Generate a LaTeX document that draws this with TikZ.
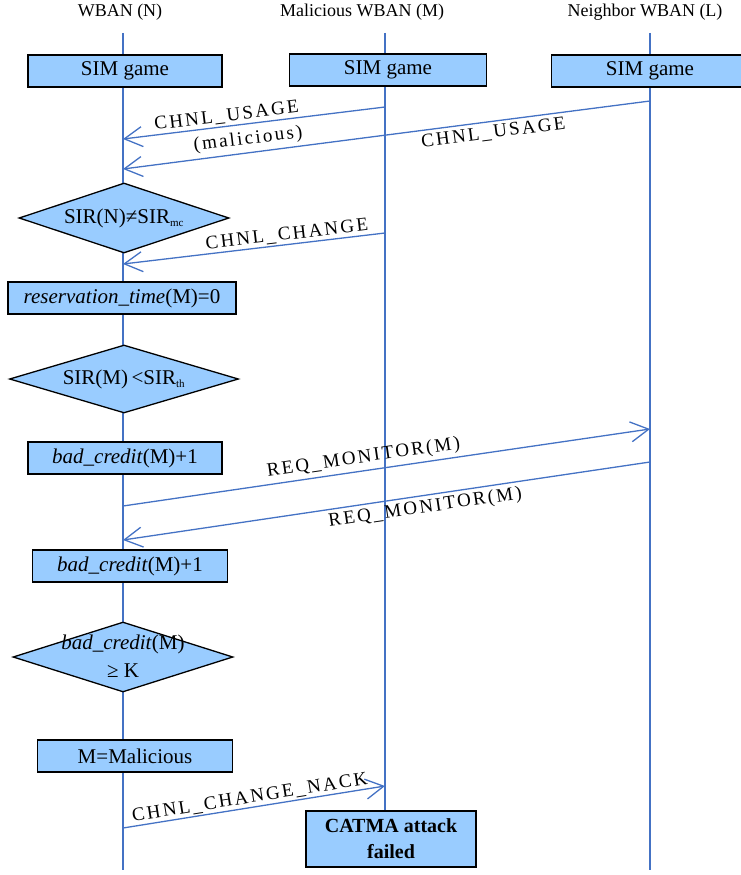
\documentclass[tikz,border=0pt]{standalone}
\usepackage{fontspec}
\setmainfont{Liberation Serif}
\newfontfamily\msgfont[LetterSpace=12]{Liberation Serif}
\usetikzlibrary{arrows.meta,shapes.geometric}
\definecolor{boxfill}{RGB}{153,204,255}
\definecolor{lifeblue}{RGB}{68,114,196}
\begin{document}
\begin{tikzpicture}[x=1pt,y=-1pt,
  every node/.style={font=\fontsize{21}{24}\selectfont},
  title/.style={font=\fontsize{18}{21}\selectfont, inner sep=0pt},
  procbox/.style={draw=black, line width=1.3pt, fill=boxfill, inner sep=0pt, minimum height=32pt},
  decision/.style={diamond, draw=black, line width=1.3pt, fill=boxfill, inner sep=0pt},
  lifeline/.style={draw=lifeblue, line width=1.3pt},
  msg/.style={draw=lifeblue, line width=1.3pt, -{Straight Barb[length=18pt,width=20pt,line width=1.3pt]}},
  msglabel/.style={font=\msgfont\fontsize{19}{21}\selectfont, sloped, inner sep=1.5pt},
]
\useasboundingbox (0,0) rectangle (740,875);

% participant titles
\node[title] (tN) at (120,12) {WBAN (N)};
\node[title] (tM) at (362,12) {Malicious WBAN (M)};
\node[title] (tL) at (645,12) {Neighbor WBAN (L)};

% lifeline end points
\coordinate (Ntop) at (123,33);
\coordinate (Nbot) at (123,870);
\coordinate (Mtop) at (385,33);
\coordinate (Ltop) at (650,33);
\coordinate (Lbot) at (650,870);

% the closing box on the malicious lifeline
\node[procbox, minimum width=170pt, minimum height=56pt, align=center,
      font=\bfseries\fontsize{20}{26}\selectfont] (catma) at (391,839) {CATMA attack\\failed};

\draw[lifeline] (Ntop) -- (Nbot);
\draw[lifeline] (Mtop) -- (catma.north -| Mtop);
\draw[lifeline] (Ltop) -- (Lbot);

% SIM game boxes
\node[procbox, minimum width=194pt] (simN) at (125,71) {SIM game};
\node[procbox, minimum width=197pt] (simM) at (388,70) {SIM game};
\node[procbox, minimum width=197pt] (simL) at (650,71) {SIM game};

% steps on the WBAN (N) lifeline
\node[decision, minimum width=210pt, minimum height=70pt] (d1) at (124,218) {};
\node (d1t) at (d1) {SIR(N)≠SIR\textsubscript{\fontsize{11}{12}\selectfont mc}};
\node[procbox, minimum width=228pt] (rt) at (122,298) {\textit{reservation\_time}(M)=0};
\node[decision, minimum width=229pt, minimum height=68pt] (d2) at (124,379) {};
\node (d2t) at (d2) {SIR(M)\,<SIR\textsubscript{\fontsize{11}{12}\selectfont th}};
\node[procbox, minimum width=194pt] (bc1) at (125,458) {\textit{bad\_credit}(M)+1};
\node[procbox, minimum width=195pt] (bc2) at (130,566) {\textit{bad\_credit}(M)+1};
\node[decision, minimum width=220pt, minimum height=70pt] (d3) at (123,657) {};
\node[align=center, font=\fontsize{21}{28}\selectfont] (d3t) at ([yshift=1pt]d3) {\textit{bad\_credit}(M)\\≥ K};
\node[procbox, minimum width=195pt] (mal) at (135,756) {M=Malicious};

% message end points on the lifelines
\coordinate (a1s) at (385,107);  \coordinate (a1e) at (123,139);
\coordinate (a2s) at (650,101);  \coordinate (a2e) at (123,169);
\coordinate (a3s) at (385,233);  \coordinate (a3e) at (123,264);
\coordinate (a4s) at (123,506);  \coordinate (a4e) at (650,429);
\coordinate (a5s) at (650,462);  \coordinate (a5e) at (123,540);
\coordinate (a6s) at (123,828);  \coordinate (a6e) at (385,786);

% messages
\draw[msg] (a1s) -- node[msglabel, pos=.6, above=0.5pt] {CHNL\_USAGE}
                    node[msglabel, pos=.53, below=5pt] {(malicious)} (a1e);
\draw[msg] (a2s) -- node[msglabel, pos=.3, below=2pt] {CHNL\_USAGE} (a2e);
\draw[msg] (a3s) -- node[msglabel, pos=.37, above] {CHNL\_CHANGE} (a3e);
\draw[msg] (a4s) -- node[msglabel, pos=.46, above=2pt] {REQ\_MONITOR(M)} (a4e);
\draw[msg] (a5s) -- node[msglabel, pos=.43, below=2pt] {REQ\_MONITOR(M)} (a5e);
\draw[msg] (a6s) -- node[msglabel, pos=.49, above] {CHNL\_CHANGE\_NACK} (a6e);
\end{tikzpicture}
\end{document}
